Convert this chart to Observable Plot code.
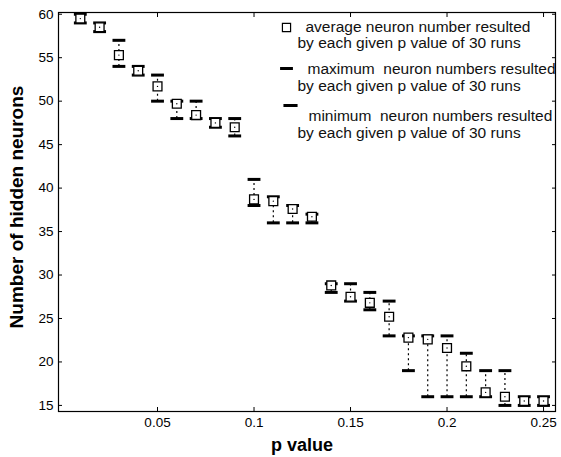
<!DOCTYPE html>
<html>
<head>
<meta charset="utf-8">
<script src="https://cdn.jsdelivr.net/npm/d3@7"></script>
<script src="https://cdn.jsdelivr.net/npm/@observablehq/plot@0.6"></script>
<style>
  html, body { margin: 0; padding: 0; background: #fff; }
  #chart { position: relative; width: 561px; height: 457px; }
  svg { font-family: "Liberation Sans", Arial, sans-serif; }
</style>
</head>
<body>
<div id="chart"></div>
<script>
const pValues = [0.01,0.02,0.03,0.04,0.05,0.06,0.07,0.08,0.09,0.10,0.11,0.12,0.13,0.14,0.15,0.16,0.17,0.18,0.19,0.20,0.21,0.22,0.23,0.24,0.25];
const avgNeurons = [59.5,58.5,55.3,53.5,51.7,49.7,48.4,47.5,47.0,38.7,38.5,37.6,36.7,28.8,27.5,26.8,25.2,22.8,22.6,21.6,19.5,16.5,16.0,15.5,15.5];
const maxNeurons = [60,59,57,54,53,50,50,48,48,41,39,38,37,29,29,28,27,23,23,23,21,19,19,16,16];
const minNeurons = [59,58,54,53,50,48,48,47,46,38,36,36,36,28,27,26,23,19,16,16,16,16,15,15,15];
const xTicks = [0.05,0.1,0.15,0.2,0.25];
const yTicks = [15,20,25,30,35,40,45,50,55,60];
const legendLines = [
  "average neuron number resulted",
  "by each given p value of 30 runs",
  "maximum  neuron numbers resulted",
  "by each given p value of 30 runs",
  "minimum  neuron numbers resulted",
  "by each given p value of 30 runs"
];

const data = pValues.map((p, i) => ({p, avg: avgNeurons[i], max: maxNeurons[i], min: minNeurons[i]}));

// horizontal bar symbol
const hbar = {
  draw(ctx, size) {
    const w = Math.sqrt(size) * 1.45, h = 1.5;
    ctx.moveTo(-w/2, -h); ctx.lineTo(w/2, -h); ctx.lineTo(w/2, h); ctx.lineTo(-w/2, h); ctx.closePath();
  }
};

const legendTextX = [305, 297, 307, 297, 308, 297];
const legendTextY = [27, 43, 69, 86, 116, 133];

const plot = Plot.plot({
  width: 561,
  height: 457,
  marginLeft: 58,
  marginRight: 6,
  marginTop: 12,
  marginBottom: 46,
  x: {domain: [-0.0013, 0.2562], label: null},
  y: {domain: [14.3, 60.2], label: null},
  style: {fontFamily: "Liberation Sans, Arial, sans-serif", fontSize: "13px", color: "black"},
  marks: [
    Plot.frame({stroke: "black", strokeWidth: 1.2}),
    Plot.axisX({ticks: xTicks, tickSize: -4, tickPadding: 10, tickFormat: d => String(d), fontSize: 13.5, label: null}),
    Plot.axisX({anchor: "top", ticks: xTicks, tickSize: -4, tickFormat: () => "", label: null}),
    Plot.axisY({ticks: yTicks, tickSize: -4, tickPadding: 9, fontSize: 13.5, label: null}),
    Plot.axisY({anchor: "right", ticks: yTicks, tickSize: -4, tickFormat: () => "", label: null}),
    Plot.ruleX(data, {x: "p", y1: "min", y2: "max", stroke: "black", strokeWidth: 1.2, strokeDasharray: "2,3"}),
    Plot.dot(data, {x: "p", y: "max", symbol: hbar, r: 5, fill: "black", stroke: "none"}),
    Plot.dot(data, {x: "p", y: "min", symbol: hbar, r: 5, fill: "black", stroke: "none"}),
    Plot.dot(data, {x: "p", y: "avg", symbol: "square", r: 5, fill: "white", stroke: "black", strokeWidth: 1.3}),
    Plot.dot(data, {x: "p", y: "avg", r: 0.7, fill: "black"}),
    // legend symbols
    Plot.dot([0], {frameAnchor: "top-left", dx: 228, dy: 15, symbol: "square", r: 4.6, fill: "white", stroke: "black", strokeWidth: 1.2}),
    Plot.dot([0], {frameAnchor: "top-left", dx: 228, dy: 56, symbol: hbar, r: 5, fill: "black", stroke: "none"}),
    Plot.dot([0], {frameAnchor: "top-left", dx: 232, dy: 93, symbol: hbar, r: 5.5, fill: "black", stroke: "none"}),
    Plot.text(legendLines, {frameAnchor: "top-left", lineAnchor: "middle", text: d => d, textAnchor: "start", fontSize: 15.5, fill: "#111"})
  ]
});

// position legend lines individually
const texts = plot.querySelectorAll("g[aria-label='text'] text");
texts.forEach((t, i) => {
  t.setAttribute("transform", `translate(${legendTextX[i]},${legendTextY[i]})`);
});

// axis titles
const ns = "http://www.w3.org/2000/svg";
const xt = document.createElementNS(ns, "text");
xt.setAttribute("x", 302); xt.setAttribute("y", 451);
xt.setAttribute("text-anchor", "middle");
xt.setAttribute("font-weight", "bold"); xt.setAttribute("font-size", "18");
xt.setAttribute("font-family", "Liberation Sans, Arial, sans-serif");
xt.textContent = "p value";
plot.appendChild(xt);
const yt = document.createElementNS(ns, "text");
yt.setAttribute("transform", "translate(23,207) rotate(-90)");
yt.setAttribute("text-anchor", "middle");
yt.setAttribute("font-weight", "bold"); yt.setAttribute("font-size", "19");
yt.setAttribute("font-family", "Liberation Sans, Arial, sans-serif");
yt.textContent = "Number of hidden neurons";
plot.appendChild(yt);

document.getElementById("chart").appendChild(plot);
</script>
</body>
</html>
